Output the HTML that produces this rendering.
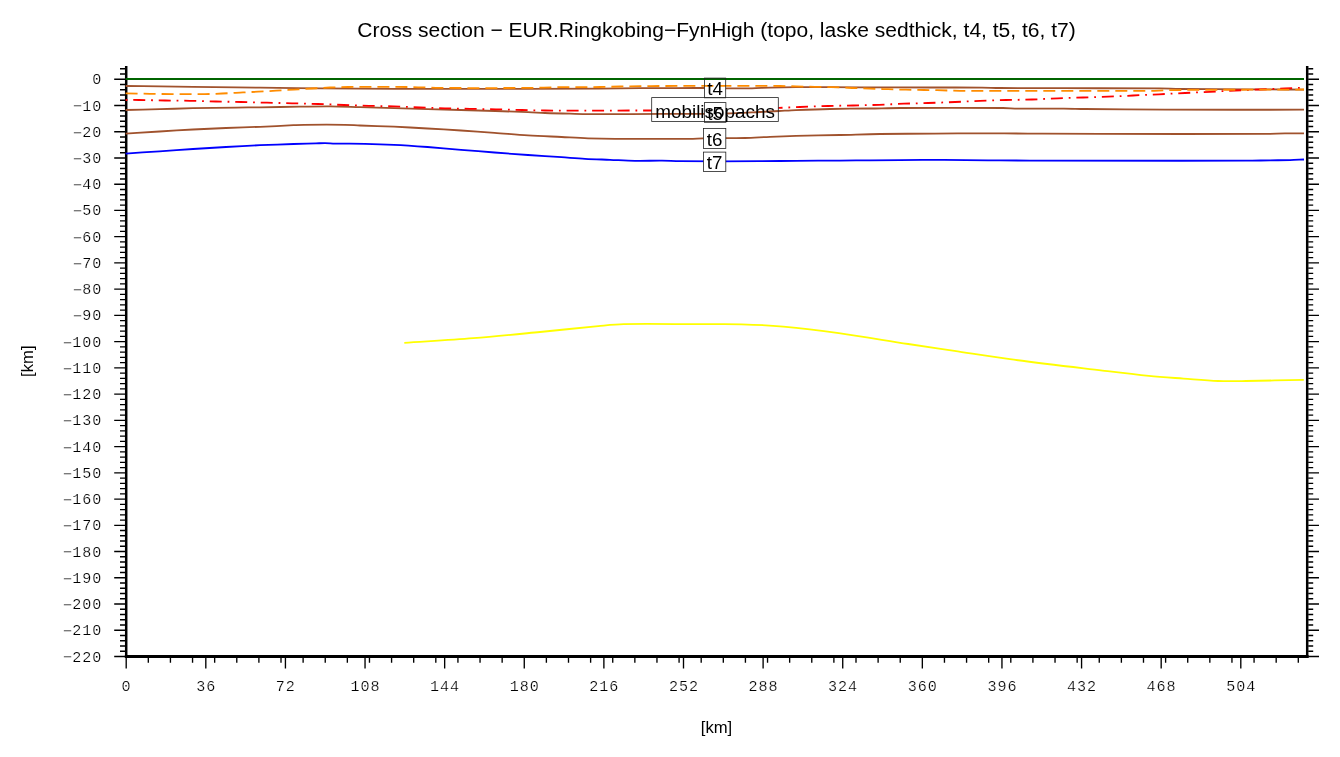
<!DOCTYPE html>
<html lang="en"><head><meta charset="utf-8"><title>Cross section - EUR.Ringkobing-FynHigh</title>
<style>html,body{margin:0;padding:0;background:#fff}body{width:1340px;height:757px;overflow:hidden}svg{display:block}.h{font-family:"Liberation Sans",sans-serif;fill:#000}.m{font-family:"Liberation Mono",monospace;fill:#000;font-size:15.1px;letter-spacing:0.94px;stroke:#fff;stroke-width:0.22px}</style></head><body>
<svg width="1340" height="757" viewBox="0 0 1340 757">
<rect width="1340" height="757" fill="#fff"/>
<text class="h" x="716.5" y="36.8" font-size="21.02" text-anchor="middle">Cross section − EUR.Ringkobing−FynHigh (topo, laske sedthick, t4, t5, t6, t7)</text>
<defs>
<clipPath id="ct4"><path clip-rule="evenodd" d="M0 0H1340V757H0Z M704.4 78.1H725.7V97.8H704.4Z"/></clipPath>
<clipPath id="cmo"><path clip-rule="evenodd" d="M0 0H1340V757H0Z M651.7 97.6H778.3V121.4H651.7Z"/></clipPath>
<clipPath id="ct5"><path clip-rule="evenodd" d="M0 0H1340V757H0Z M704.4 102.6H725.9V122.3H704.4Z"/></clipPath>
<clipPath id="ct6"><path clip-rule="evenodd" d="M0 0H1340V757H0Z M703.4 128.4H725.8V148.5H703.4Z"/></clipPath>
<clipPath id="ct7"><path clip-rule="evenodd" d="M0 0H1340V757H0Z M703.4 152.1H725.8V171.5H703.4Z"/></clipPath>
</defs>
<g stroke="#000" fill="none">
<path d="M126.2 66.0V658.0" stroke-width="2.5"/>
<path d="M1307.2 66.0V658.0" stroke-width="2.5"/>
<path d="M124.85000000000001 656.5H1308.55" stroke-width="3"/>
<path d="M125.2 68.75H120.0M1308.2 68.75H1313.2M125.2 74.00H120.0M1308.2 74.00H1313.2M125.2 79.25H114.2M1308.2 79.25H1319.0M125.2 84.50H120.0M1308.2 84.50H1313.2M125.2 89.75H120.0M1308.2 89.75H1313.2M125.2 94.99H120.0M1308.2 94.99H1313.2M125.2 100.24H120.0M1308.2 100.24H1313.2M125.2 105.49H114.2M1308.2 105.49H1319.0M125.2 110.74H120.0M1308.2 110.74H1313.2M125.2 115.98H120.0M1308.2 115.98H1313.2M125.2 121.23H120.0M1308.2 121.23H1313.2M125.2 126.48H120.0M1308.2 126.48H1313.2M125.2 131.73H114.2M1308.2 131.73H1319.0M125.2 136.97H120.0M1308.2 136.97H1313.2M125.2 142.22H120.0M1308.2 142.22H1313.2M125.2 147.47H120.0M1308.2 147.47H1313.2M125.2 152.72H120.0M1308.2 152.72H1313.2M125.2 157.96H114.2M1308.2 157.96H1319.0M125.2 163.21H120.0M1308.2 163.21H1313.2M125.2 168.46H120.0M1308.2 168.46H1313.2M125.2 173.71H120.0M1308.2 173.71H1313.2M125.2 178.95H120.0M1308.2 178.95H1313.2M125.2 184.20H114.2M1308.2 184.20H1319.0M125.2 189.45H120.0M1308.2 189.45H1313.2M125.2 194.70H120.0M1308.2 194.70H1313.2M125.2 199.94H120.0M1308.2 199.94H1313.2M125.2 205.19H120.0M1308.2 205.19H1313.2M125.2 210.44H114.2M1308.2 210.44H1319.0M125.2 215.69H120.0M1308.2 215.69H1313.2M125.2 220.94H120.0M1308.2 220.94H1313.2M125.2 226.18H120.0M1308.2 226.18H1313.2M125.2 231.43H120.0M1308.2 231.43H1313.2M125.2 236.68H114.2M1308.2 236.68H1319.0M125.2 241.93H120.0M1308.2 241.93H1313.2M125.2 247.17H120.0M1308.2 247.17H1313.2M125.2 252.42H120.0M1308.2 252.42H1313.2M125.2 257.67H120.0M1308.2 257.67H1313.2M125.2 262.92H114.2M1308.2 262.92H1319.0M125.2 268.16H120.0M1308.2 268.16H1313.2M125.2 273.41H120.0M1308.2 273.41H1313.2M125.2 278.66H120.0M1308.2 278.66H1313.2M125.2 283.91H120.0M1308.2 283.91H1313.2M125.2 289.15H114.2M1308.2 289.15H1319.0M125.2 294.40H120.0M1308.2 294.40H1313.2M125.2 299.65H120.0M1308.2 299.65H1313.2M125.2 304.90H120.0M1308.2 304.90H1313.2M125.2 310.14H120.0M1308.2 310.14H1313.2M125.2 315.39H114.2M1308.2 315.39H1319.0M125.2 320.64H120.0M1308.2 320.64H1313.2M125.2 325.89H120.0M1308.2 325.89H1313.2M125.2 331.13H120.0M1308.2 331.13H1313.2M125.2 336.38H120.0M1308.2 336.38H1313.2M125.2 341.63H114.2M1308.2 341.63H1319.0M125.2 346.88H120.0M1308.2 346.88H1313.2M125.2 352.13H120.0M1308.2 352.13H1313.2M125.2 357.37H120.0M1308.2 357.37H1313.2M125.2 362.62H120.0M1308.2 362.62H1313.2M125.2 367.87H114.2M1308.2 367.87H1319.0M125.2 373.12H120.0M1308.2 373.12H1313.2M125.2 378.36H120.0M1308.2 378.36H1313.2M125.2 383.61H120.0M1308.2 383.61H1313.2M125.2 388.86H120.0M1308.2 388.86H1313.2M125.2 394.11H114.2M1308.2 394.11H1319.0M125.2 399.35H120.0M1308.2 399.35H1313.2M125.2 404.60H120.0M1308.2 404.60H1313.2M125.2 409.85H120.0M1308.2 409.85H1313.2M125.2 415.10H120.0M1308.2 415.10H1313.2M125.2 420.34H114.2M1308.2 420.34H1319.0M125.2 425.59H120.0M1308.2 425.59H1313.2M125.2 430.84H120.0M1308.2 430.84H1313.2M125.2 436.09H120.0M1308.2 436.09H1313.2M125.2 441.33H120.0M1308.2 441.33H1313.2M125.2 446.58H114.2M1308.2 446.58H1319.0M125.2 451.83H120.0M1308.2 451.83H1313.2M125.2 457.08H120.0M1308.2 457.08H1313.2M125.2 462.32H120.0M1308.2 462.32H1313.2M125.2 467.57H120.0M1308.2 467.57H1313.2M125.2 472.82H114.2M1308.2 472.82H1319.0M125.2 478.07H120.0M1308.2 478.07H1313.2M125.2 483.32H120.0M1308.2 483.32H1313.2M125.2 488.56H120.0M1308.2 488.56H1313.2M125.2 493.81H120.0M1308.2 493.81H1313.2M125.2 499.06H114.2M1308.2 499.06H1319.0M125.2 504.31H120.0M1308.2 504.31H1313.2M125.2 509.55H120.0M1308.2 509.55H1313.2M125.2 514.80H120.0M1308.2 514.80H1313.2M125.2 520.05H120.0M1308.2 520.05H1313.2M125.2 525.30H114.2M1308.2 525.30H1319.0M125.2 530.54H120.0M1308.2 530.54H1313.2M125.2 535.79H120.0M1308.2 535.79H1313.2M125.2 541.04H120.0M1308.2 541.04H1313.2M125.2 546.29H120.0M1308.2 546.29H1313.2M125.2 551.53H114.2M1308.2 551.53H1319.0M125.2 556.78H120.0M1308.2 556.78H1313.2M125.2 562.03H120.0M1308.2 562.03H1313.2M125.2 567.28H120.0M1308.2 567.28H1313.2M125.2 572.52H120.0M1308.2 572.52H1313.2M125.2 577.77H114.2M1308.2 577.77H1319.0M125.2 583.02H120.0M1308.2 583.02H1313.2M125.2 588.27H120.0M1308.2 588.27H1313.2M125.2 593.51H120.0M1308.2 593.51H1313.2M125.2 598.76H120.0M1308.2 598.76H1313.2M125.2 604.01H114.2M1308.2 604.01H1319.0M125.2 609.26H120.0M1308.2 609.26H1313.2M125.2 614.51H120.0M1308.2 614.51H1313.2M125.2 619.75H120.0M1308.2 619.75H1313.2M125.2 625.00H120.0M1308.2 625.00H1313.2M125.2 630.25H114.2M1308.2 630.25H1319.0M125.2 635.50H120.0M1308.2 635.50H1313.2M125.2 640.74H120.0M1308.2 640.74H1313.2M125.2 645.99H120.0M1308.2 645.99H1313.2M125.2 651.24H120.0M1308.2 651.24H1313.2M125.2 656.49H114.2M1308.2 656.49H1319.0" stroke-width="1.35"/>
<path d="M126.20 657.7v5.0M148.31 657.7v5.0M170.43 657.7v5.0M192.55 657.7v5.0M214.66 657.7v5.0M236.78 657.7v5.0M258.89 657.7v5.0M281.00 657.7v5.0M303.12 657.7v5.0M325.24 657.7v5.0M347.35 657.7v5.0M369.47 657.7v5.0M391.58 657.7v5.0M413.69 657.7v5.0M435.81 657.7v5.0M457.93 657.7v5.0M480.04 657.7v5.0M502.15 657.7v5.0M524.27 657.7v5.0M546.38 657.7v5.0M568.50 657.7v5.0M590.62 657.7v5.0M612.73 657.7v5.0M634.85 657.7v5.0M656.96 657.7v5.0M679.08 657.7v5.0M701.19 657.7v5.0M723.31 657.7v5.0M745.42 657.7v5.0M767.54 657.7v5.0M789.65 657.7v5.0M811.77 657.7v5.0M833.88 657.7v5.0M856.00 657.7v5.0M878.11 657.7v5.0M900.23 657.7v5.0M922.34 657.7v5.0M944.46 657.7v5.0M966.57 657.7v5.0M988.69 657.7v5.0M1010.80 657.7v5.0M1032.91 657.7v5.0M1055.03 657.7v5.0M1077.14 657.7v5.0M1099.26 657.7v5.0M1121.38 657.7v5.0M1143.49 657.7v5.0M1165.61 657.7v5.0M1187.72 657.7v5.0M1209.84 657.7v5.0M1231.95 657.7v5.0M1254.07 657.7v5.0M1276.18 657.7v5.0M1298.30 657.7v5.0M126.20 657.7v10.8M205.81 657.7v10.8M285.43 657.7v10.8M365.04 657.7v10.8M444.66 657.7v10.8M524.27 657.7v10.8M603.88 657.7v10.8M683.50 657.7v10.8M763.11 657.7v10.8M842.73 657.7v10.8M922.34 657.7v10.8M1001.95 657.7v10.8M1081.57 657.7v10.8M1161.18 657.7v10.8M1240.80 657.7v10.8" stroke-width="1.35"/>
</g>
<path d="M404.3 342.8C427.3 341.27 450.3 340.03 473.3 338.2C495.5 336.43 517.8 334.15 540.0 332.0C559.4 330.12 578.8 327.93 598.2 326.1C606.7 325.30 615.1 324.26 623.6 324.1C649.1 323.62 674.5 324.16 700.0 324.2C713.9 324.22 727.7 323.90 741.6 324.3C755.5 324.70 769.4 325.34 783.3 326.6C801.8 328.27 820.3 330.52 838.8 333.1C861.9 336.32 885.1 340.44 908.2 344.0C923.6 346.37 939.0 348.60 954.4 350.9C972.9 353.67 991.5 356.73 1010.0 359.2C1040.8 363.30 1071.7 366.89 1102.5 370.6C1117.9 372.46 1133.4 374.38 1148.8 375.9C1160.4 377.04 1171.9 377.75 1183.5 378.6C1195.1 379.45 1206.6 380.56 1218.2 381.0C1227.5 381.36 1236.7 381.13 1246.0 381.0C1265.3 380.73 1284.5 380.20 1303.8 379.8" fill="none" stroke="#ffff00" stroke-width="1.8" stroke-linejoin="round" />
<path d="M125.6 153.6C136.9 152.83 148.2 152.07 159.5 151.3C170.7 150.54 181.8 149.72 193.0 149.0C204.0 148.29 215.0 147.62 226.0 147.0C237.3 146.36 248.7 145.70 260.0 145.2C271.2 144.70 282.3 144.36 293.5 144.0C301.0 143.76 308.5 143.61 316.0 143.4C319.0 143.31 322.0 143.07 325.0 143.1C328.3 143.14 331.7 143.54 335.0 143.6C345.0 143.78 355.0 143.60 365.0 143.8C374.7 144.00 384.3 144.31 394.0 144.8C405.2 145.37 416.3 146.17 427.5 147.0C438.7 147.83 449.8 148.88 461.0 149.8C472.2 150.72 483.3 151.63 494.5 152.5C505.7 153.37 516.8 154.22 528.0 155.0C539.2 155.78 550.3 156.46 561.5 157.2C569.3 157.72 577.2 158.38 585.0 158.8C593.3 159.25 601.7 159.47 610.0 159.8C618.3 160.13 626.7 160.66 635.0 160.8C644.0 160.96 653.0 160.62 662.0 160.7C668.0 160.75 674.0 161.17 680.0 161.2C706.7 161.34 733.3 161.29 760.0 161.2C772.0 161.16 784.0 160.89 796.0 160.8C810.7 160.69 825.3 160.70 840.0 160.6C850.0 160.53 860.0 160.38 870.0 160.3C880.0 160.22 890.0 160.15 900.0 160.1C914.7 160.02 929.3 159.87 944.0 159.9C958.7 159.93 973.3 160.18 988.0 160.3C1002.0 160.41 1016.0 160.58 1030.0 160.6C1102.0 160.71 1174.0 160.79 1246.0 160.7C1254.0 160.69 1262.0 160.41 1270.0 160.3C1276.7 160.21 1283.3 160.26 1290.0 160.1C1294.7 159.99 1299.3 159.70 1304.0 159.5" fill="none" stroke="#0000ff" stroke-width="1.8" stroke-linejoin="round" clip-path="url(#ct7)"/>
<path d="M125.6 133.6C136.9 132.90 148.2 132.19 159.5 131.5C170.7 130.82 181.8 130.09 193.0 129.5C204.0 128.92 215.0 128.44 226.0 128.0C237.3 127.54 248.7 127.27 260.0 126.8C271.2 126.34 282.3 125.71 293.5 125.2C297.0 125.04 300.5 124.83 304.0 124.8C317.7 124.69 331.3 124.63 345.0 124.8C350.0 124.86 355.0 125.31 360.0 125.5C371.3 125.94 382.7 126.20 394.0 126.7C405.2 127.20 416.3 127.87 427.5 128.5C438.7 129.13 449.8 129.78 461.0 130.5C472.2 131.22 483.3 132.00 494.5 132.8C505.7 133.60 516.8 134.60 528.0 135.3C539.2 136.00 550.3 136.44 561.5 137.0C570.3 137.44 579.2 138.00 588.0 138.3C597.0 138.60 606.0 138.76 615.0 138.8C640.0 138.92 665.0 138.91 690.0 138.8C694.3 138.78 698.7 138.47 703.0 138.4C710.7 138.27 718.3 138.27 726.0 138.2C732.3 138.14 738.7 138.20 745.0 138.0C753.3 137.73 761.7 137.14 770.0 136.8C778.7 136.44 787.3 136.12 796.0 135.9C810.7 135.52 825.3 135.33 840.0 135.0C853.3 134.70 866.7 134.20 880.0 134.0C898.3 133.73 916.7 133.73 935.0 133.6C950.3 133.49 965.7 133.30 981.0 133.3C996.7 133.30 1012.3 133.52 1028.0 133.6C1052.0 133.72 1076.0 133.87 1100.0 133.9C1155.3 133.97 1210.7 134.05 1266.0 133.9C1272.3 133.88 1278.7 133.50 1285.0 133.4C1291.3 133.30 1297.7 133.33 1304.0 133.3" fill="none" stroke="#a0522d" stroke-width="1.8" stroke-linejoin="round" clip-path="url(#ct6)"/>
<path d="M125.6 110.0C137.1 109.73 148.5 109.51 160.0 109.2C171.0 108.91 182.0 108.43 193.0 108.2C207.3 107.90 221.7 107.79 236.0 107.6C244.0 107.49 252.0 107.41 260.0 107.3C273.3 107.11 286.7 106.87 300.0 106.7C310.0 106.57 320.0 106.32 330.0 106.4C340.0 106.48 350.0 106.92 360.0 107.2C371.3 107.52 382.7 107.89 394.0 108.2C416.3 108.82 438.7 109.35 461.0 110.0C483.3 110.65 505.7 111.30 528.0 112.1C533.7 112.30 539.3 112.78 545.0 113.0C553.3 113.32 561.7 113.52 570.0 113.7C580.0 113.92 590.0 114.19 600.0 114.2C620.7 114.22 641.3 113.88 662.0 113.8C674.7 113.75 687.3 113.86 700.0 113.8C708.7 113.76 717.3 113.76 726.0 113.5C737.3 113.16 748.7 112.53 760.0 112.0C766.3 111.70 772.7 111.33 779.0 111.0C784.7 110.70 790.3 110.32 796.0 110.1C807.3 109.66 818.7 109.25 830.0 109.0C843.3 108.71 856.7 108.69 870.0 108.5C880.0 108.36 890.0 108.04 900.0 108.0C934.3 107.87 968.7 107.83 1003.0 108.0C1008.0 108.03 1013.0 108.55 1018.0 108.6C1033.3 108.75 1048.7 108.51 1064.0 108.6C1071.0 108.64 1078.0 108.92 1085.0 109.0C1111.7 109.29 1138.3 109.61 1165.0 109.7C1211.3 109.85 1257.7 109.70 1304.0 109.7" fill="none" stroke="#a0522d" stroke-width="1.8" stroke-linejoin="round" clip-path="url(#ct5)"/>
<path d="M125.6 86.0C137.1 86.13 148.5 86.26 160.0 86.4C171.0 86.53 182.0 86.66 193.0 86.8C207.3 86.99 221.7 87.21 236.0 87.4C244.0 87.51 252.0 87.61 260.0 87.7C272.0 87.84 284.0 87.98 296.0 88.1C304.0 88.18 312.0 88.24 320.0 88.3C344.7 88.48 369.3 88.74 394.0 88.8C438.7 88.91 483.3 88.84 528.0 88.8C552.0 88.78 576.0 88.73 600.0 88.6C613.3 88.53 626.7 88.31 640.0 88.2C647.3 88.14 654.7 88.12 662.0 88.1C676.0 88.06 690.0 87.93 704.0 88.0C711.3 88.03 718.7 88.35 726.0 88.4C734.7 88.45 743.3 88.46 752.0 88.3C758.0 88.19 764.0 87.75 770.0 87.6C778.7 87.38 787.3 87.23 796.0 87.2C817.3 87.13 838.7 87.25 860.0 87.3C883.3 87.35 906.7 87.44 930.0 87.5C947.3 87.54 964.7 87.48 982.0 87.6C988.0 87.64 994.0 87.96 1000.0 88.0C1021.3 88.16 1042.7 88.15 1064.0 88.2C1096.0 88.28 1128.0 88.18 1160.0 88.4C1166.7 88.45 1173.3 88.93 1180.0 89.0C1203.3 89.23 1226.7 89.19 1250.0 89.3C1268.0 89.39 1286.0 89.50 1304.0 89.6" fill="none" stroke="#a0522d" stroke-width="1.8" stroke-linejoin="round" clip-path="url(#ct4)"/>
<path d="M125.6 100.0C130.1 100.00 134.5 99.94 139.0 100.0C147.7 100.11 156.3 100.36 165.0 100.5C173.3 100.63 181.7 100.64 190.0 100.8C198.7 100.97 207.3 101.30 216.0 101.5C224.3 101.70 232.7 101.80 241.0 102.0C249.7 102.20 258.3 102.48 267.0 102.7C275.3 102.91 283.7 103.09 292.0 103.3C300.7 103.52 309.3 103.72 318.0 104.0C326.7 104.28 335.3 104.69 344.0 105.0C352.3 105.29 360.7 105.57 369.0 105.8C377.3 106.03 385.7 106.12 394.0 106.4C402.7 106.69 411.3 107.18 420.0 107.5C428.3 107.81 436.7 108.08 445.0 108.3C453.3 108.52 461.7 108.64 470.0 108.8C478.7 108.97 487.3 109.10 496.0 109.3C504.7 109.50 513.3 109.79 522.0 110.0C529.7 110.19 537.3 110.47 545.0 110.5C580.3 110.64 615.7 110.50 651.0 110.5C667.3 110.50 683.7 110.65 700.0 110.5C713.3 110.38 726.7 110.14 740.0 109.7C753.0 109.27 766.0 108.48 779.0 107.9C786.0 107.59 793.0 107.27 800.0 107.0C809.3 106.64 818.7 106.26 828.0 106.0C836.3 105.76 844.7 105.70 853.0 105.5C861.7 105.30 870.3 105.11 879.0 104.8C887.3 104.51 895.7 104.01 904.0 103.7C912.0 103.41 920.0 103.27 928.0 103.0C937.0 102.70 946.0 102.38 955.0 102.0C963.3 101.65 971.7 101.13 980.0 100.8C988.7 100.46 997.3 100.22 1006.0 100.0C1014.7 99.78 1023.3 99.78 1032.0 99.5C1040.7 99.22 1049.3 98.64 1058.0 98.3C1066.3 97.97 1074.7 97.77 1083.0 97.5C1091.3 97.23 1099.7 97.03 1108.0 96.7C1116.3 96.37 1124.7 95.89 1133.0 95.5C1141.7 95.09 1150.3 94.72 1159.0 94.3C1167.7 93.88 1176.3 93.42 1185.0 93.0C1193.3 92.59 1201.7 92.22 1210.0 91.8C1218.3 91.38 1226.7 90.88 1235.0 90.5C1243.3 90.12 1251.7 89.83 1260.0 89.5C1268.3 89.17 1276.7 88.84 1285.0 88.5C1291.3 88.24 1297.7 87.97 1304.0 87.7" fill="none" stroke="#ff0000" stroke-width="1.8" stroke-linejoin="round" stroke-dasharray="12 5.85 1.8 5.85" stroke-dashoffset="17.85" clip-path="url(#cmo)"/>
<path d="M125.6 93.3C133.7 93.47 141.9 93.66 150.0 93.8C157.3 93.93 164.7 94.06 172.0 94.1C183.0 94.16 194.0 94.23 205.0 94.1C210.7 94.03 216.3 93.74 222.0 93.5C228.0 93.24 234.0 92.91 240.0 92.6C246.0 92.29 252.0 91.97 258.0 91.7C264.0 91.33 270.0 91.04 276.0 90.7C282.0 90.36 288.0 89.97 294.0 89.6C300.0 89.23 306.0 88.85 312.0 88.5C318.0 88.15 324.0 87.75 330.0 87.5C336.0 87.25 342.0 87.04 348.0 87.0C368.7 86.87 389.3 86.80 410.0 87.0C420.0 87.10 430.0 87.82 440.0 87.9C469.3 88.12 498.7 88.10 528.0 87.9C538.7 87.83 549.3 87.23 560.0 87.1C573.3 86.93 586.7 87.13 600.0 87.0C606.7 86.93 613.3 86.63 620.0 86.5C626.7 86.37 633.3 86.28 640.0 86.2C647.3 86.11 654.7 86.04 662.0 86.0C674.7 85.94 687.3 85.90 700.0 85.9C726.7 85.90 753.3 85.86 780.0 86.0C785.3 86.03 790.7 86.28 796.0 86.4C802.3 86.54 808.7 86.66 815.0 86.8C821.0 86.93 827.0 87.01 833.0 87.2C839.3 87.41 845.7 87.74 852.0 88.0C858.0 88.24 864.0 88.50 870.0 88.7C876.0 88.90 882.0 89.03 888.0 89.2C894.0 89.37 900.0 89.57 906.0 89.7C912.0 89.83 918.0 89.90 924.0 90.0C928.3 90.07 932.7 90.10 937.0 90.2C944.7 90.37 952.3 90.78 960.0 90.8C1023.3 90.98 1086.7 90.95 1150.0 90.8C1155.0 90.79 1160.0 90.41 1165.0 90.3C1173.3 90.11 1181.7 89.96 1190.0 89.9C1210.0 89.76 1230.0 89.77 1250.0 89.7C1268.0 89.64 1286.0 89.57 1304.0 89.5" fill="none" stroke="#ff8c00" stroke-width="1.8" stroke-linejoin="round" stroke-dasharray="12 6"/>
<path d="M125.6 79.0 L1304.0 79.0" fill="none" stroke="#006400" stroke-width="1.8" stroke-linejoin="round" />
<rect x="704.4" y="78.1" width="21.3" height="19.7" fill="none" stroke="#222" stroke-width="0.8"/>
<rect x="651.7" y="97.6" width="126.6" height="23.8" fill="none" stroke="#222" stroke-width="0.8"/>
<rect x="704.4" y="102.6" width="21.5" height="19.7" fill="none" stroke="#222" stroke-width="0.8"/>
<rect x="703.4" y="128.4" width="22.4" height="20.1" fill="none" stroke="#222" stroke-width="0.8"/>
<rect x="703.4" y="152.1" width="22.4" height="19.4" fill="none" stroke="#222" stroke-width="0.8"/>
<text class="h" x="715.1" y="95.2" font-size="18.75" text-anchor="middle">t4</text>
<text class="h" x="715.1" y="117.8" font-size="18.92" text-anchor="middle">mobilisopachs</text>
<text class="h" x="715.1" y="119.7" font-size="18.75" text-anchor="middle">t5</text>
<text class="h" x="714.6" y="145.7" font-size="18.75" text-anchor="middle">t6</text>
<text class="h" x="714.6" y="169.0" font-size="18.75" text-anchor="middle">t7</text>
<text class="m" x="102.2" y="84.2" text-anchor="end">0</text>
<text class="m" x="101.5" y="110.5" text-anchor="end"><tspan dx="0.8" dy="0.9">−</tspan><tspan dx="-0.8" dy="-0.9">10</tspan></text>
<text class="m" x="101.5" y="136.7" text-anchor="end"><tspan dx="0.8" dy="0.9">−</tspan><tspan dx="-0.8" dy="-0.9">20</tspan></text>
<text class="m" x="101.5" y="163.0" text-anchor="end"><tspan dx="0.8" dy="0.9">−</tspan><tspan dx="-0.8" dy="-0.9">30</tspan></text>
<text class="m" x="101.5" y="189.2" text-anchor="end"><tspan dx="0.8" dy="0.9">−</tspan><tspan dx="-0.8" dy="-0.9">40</tspan></text>
<text class="m" x="101.5" y="215.4" text-anchor="end"><tspan dx="0.8" dy="0.9">−</tspan><tspan dx="-0.8" dy="-0.9">50</tspan></text>
<text class="m" x="101.5" y="241.7" text-anchor="end"><tspan dx="0.8" dy="0.9">−</tspan><tspan dx="-0.8" dy="-0.9">60</tspan></text>
<text class="m" x="101.5" y="267.9" text-anchor="end"><tspan dx="0.8" dy="0.9">−</tspan><tspan dx="-0.8" dy="-0.9">70</tspan></text>
<text class="m" x="101.5" y="294.2" text-anchor="end"><tspan dx="0.8" dy="0.9">−</tspan><tspan dx="-0.8" dy="-0.9">80</tspan></text>
<text class="m" x="101.5" y="320.4" text-anchor="end"><tspan dx="0.8" dy="0.9">−</tspan><tspan dx="-0.8" dy="-0.9">90</tspan></text>
<text class="m" x="101.5" y="346.6" text-anchor="end"><tspan dx="0.8" dy="0.9">−</tspan><tspan dx="-0.8" dy="-0.9">100</tspan></text>
<text class="m" x="101.5" y="372.9" text-anchor="end"><tspan dx="0.8" dy="0.9">−</tspan><tspan dx="-0.8" dy="-0.9">110</tspan></text>
<text class="m" x="101.5" y="399.1" text-anchor="end"><tspan dx="0.8" dy="0.9">−</tspan><tspan dx="-0.8" dy="-0.9">120</tspan></text>
<text class="m" x="101.5" y="425.3" text-anchor="end"><tspan dx="0.8" dy="0.9">−</tspan><tspan dx="-0.8" dy="-0.9">130</tspan></text>
<text class="m" x="101.5" y="451.6" text-anchor="end"><tspan dx="0.8" dy="0.9">−</tspan><tspan dx="-0.8" dy="-0.9">140</tspan></text>
<text class="m" x="101.5" y="477.8" text-anchor="end"><tspan dx="0.8" dy="0.9">−</tspan><tspan dx="-0.8" dy="-0.9">150</tspan></text>
<text class="m" x="101.5" y="504.1" text-anchor="end"><tspan dx="0.8" dy="0.9">−</tspan><tspan dx="-0.8" dy="-0.9">160</tspan></text>
<text class="m" x="101.5" y="530.3" text-anchor="end"><tspan dx="0.8" dy="0.9">−</tspan><tspan dx="-0.8" dy="-0.9">170</tspan></text>
<text class="m" x="101.5" y="556.5" text-anchor="end"><tspan dx="0.8" dy="0.9">−</tspan><tspan dx="-0.8" dy="-0.9">180</tspan></text>
<text class="m" x="101.5" y="582.8" text-anchor="end"><tspan dx="0.8" dy="0.9">−</tspan><tspan dx="-0.8" dy="-0.9">190</tspan></text>
<text class="m" x="101.5" y="609.0" text-anchor="end"><tspan dx="0.8" dy="0.9">−</tspan><tspan dx="-0.8" dy="-0.9">200</tspan></text>
<text class="m" x="101.5" y="635.2" text-anchor="end"><tspan dx="0.8" dy="0.9">−</tspan><tspan dx="-0.8" dy="-0.9">210</tspan></text>
<text class="m" x="101.5" y="661.5" text-anchor="end"><tspan dx="0.8" dy="0.9">−</tspan><tspan dx="-0.8" dy="-0.9">220</tspan></text>
<text class="m" x="126.6" y="691.0" text-anchor="middle">0</text>
<text class="m" x="206.2" y="691.0" text-anchor="middle">36</text>
<text class="m" x="285.8" y="691.0" text-anchor="middle">72</text>
<text class="m" x="365.4" y="691.0" text-anchor="middle">108</text>
<text class="m" x="445.1" y="691.0" text-anchor="middle">144</text>
<text class="m" x="524.7" y="691.0" text-anchor="middle">180</text>
<text class="m" x="604.3" y="691.0" text-anchor="middle">216</text>
<text class="m" x="683.9" y="691.0" text-anchor="middle">252</text>
<text class="m" x="763.5" y="691.0" text-anchor="middle">288</text>
<text class="m" x="843.1" y="691.0" text-anchor="middle">324</text>
<text class="m" x="922.7" y="691.0" text-anchor="middle">360</text>
<text class="m" x="1002.4" y="691.0" text-anchor="middle">396</text>
<text class="m" x="1082.0" y="691.0" text-anchor="middle">432</text>
<text class="m" x="1161.6" y="691.0" text-anchor="middle">468</text>
<text class="m" x="1241.2" y="691.0" text-anchor="middle">504</text>
<text class="h" x="716.5" y="732.8" font-size="16.67" text-anchor="middle">[km]</text>
<text class="h" transform="translate(32.9 361.2) rotate(-90)" font-size="16.67" text-anchor="middle">[km]</text>
</svg></body></html>
